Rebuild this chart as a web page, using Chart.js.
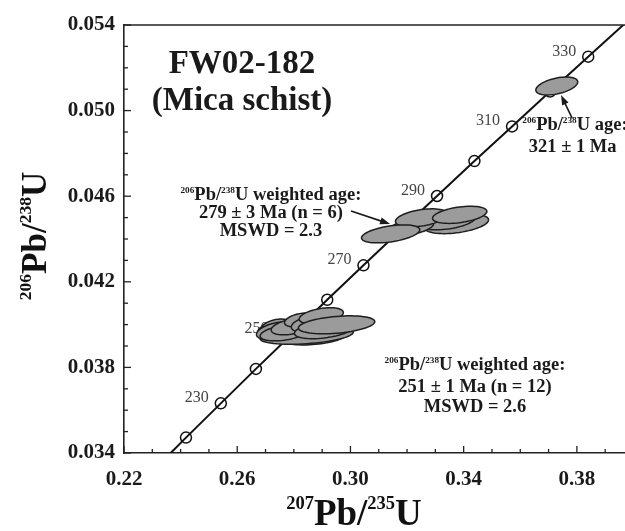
<!DOCTYPE html>
<html>
<head>
<meta charset="utf-8">
<script src="https://cdn.jsdelivr.net/npm/chart.js@4.4.1/dist/chart.umd.min.js"></script>
<style>
  html, body { margin: 0; padding: 0; background: #fff; }
  #wrap { width: 625px; height: 531px; }
</style>
</head>
<body>
<div id="wrap"><canvas id="myChart" width="625" height="531"></canvas></div>
<script>
// concordia age markers (Ma) and their ratios
const concordiaAges = [220, 230, 240, 250, 260, 270, 280, 290, 300, 310, 320, 330];
const concordiaX = [0.2419, 0.2542, 0.2666, 0.2792, 0.2918, 0.3046, 0.3175, 0.3306, 0.3438, 0.3571, 0.3705, 0.3840];
const concordiaY = [0.03472, 0.03632, 0.03793, 0.03954, 0.04116, 0.04277, 0.04439, 0.04601, 0.04764, 0.04926, 0.05089, 0.05252];
const labelledAges = [230, 250, 270, 290, 310, 330];

// where the concordia leaves the frame
const lineStart = [0.2365, 0.0340];
const lineEnd = [0.3972, 0.0541];

// zircon error ellipses: centre, half widths, correlation
const grainX = [0.2876, 0.2845, 0.2712, 0.2735, 0.2740, 0.2766, 0.2791, 0.2820, 0.2855, 0.2908, 0.2897, 0.2951,
                0.3375, 0.3343, 0.3216, 0.3251, 0.3386, 0.3142,
                0.3729];
const grainY = [0.03938, 0.03950, 0.03976, 0.03994, 0.03971, 0.03962, 0.03990, 0.04022, 0.04004, 0.03976, 0.04041, 0.03999,
                0.04471, 0.04485, 0.04457, 0.04499, 0.04513, 0.04424,
                0.05115];
const grainSx = [0.0106, 0.0165, 0.0040, 0.0050, 0.0072, 0.0085, 0.0071, 0.0053, 0.0064, 0.0106, 0.0078, 0.0135,
                 0.0113, 0.0099, 0.0078, 0.0092, 0.0096, 0.0103,
                 0.0074];
const grainSy = [0.00033, 0.00042, 0.00032, 0.00032, 0.00042, 0.00038, 0.00038, 0.00032, 0.00038, 0.00042, 0.00038, 0.00042,
                 0.00046, 0.00042, 0.00038, 0.00042, 0.00040, 0.00042,
                 0.00042];
const grainRho = [0.4, 0.35, 0.4, 0.4, 0.4, 0.4, 0.4, 0.4, 0.4, 0.4, 0.4, 0.35,
                  0.4, 0.4, 0.4, 0.4, 0.4, 0.45,
                  0.45];

const xMin = 0.22, xMax = 0.397;
const yMin = 0.034, yMax = 0.054;

const SERIF = '"Liberation Serif", "Times New Roman", serif';
const font = (size, bold = true) => `${bold ? 'bold ' : ''}${size}px ${SERIF}`;

// text with superscript isotope numbers
const drawRich = (ctx, runs, x, y, size, align, supScale = 0.5, raise = 0.36) => {
  let w = 0;
  runs.forEach(([t, sup]) => { ctx.font = font(sup ? size * supScale : size); w += ctx.measureText(t).width; });
  let cx = align === 'center' ? x - w / 2 : align === 'right' ? x - w : x;
  ctx.textAlign = 'left';
  ctx.textBaseline = 'alphabetic';
  runs.forEach(([t, sup]) => {
    ctx.font = font(sup ? size * supScale : size);
    ctx.fillText(t, cx, sup ? y - size * raise : y);
    cx += ctx.measureText(t).width;
  });
}

const arrow = (ctx, x1, y1, x2, y2) => {
  const ang = Math.atan2(y2 - y1, x2 - x1);
  ctx.beginPath();
  ctx.moveTo(x1, y1);
  ctx.lineTo(x2 - 6 * Math.cos(ang), y2 - 6 * Math.sin(ang));
  ctx.stroke();
  ctx.beginPath();
  ctx.moveTo(x2, y2);
  ctx.lineTo(x2 - 10 * Math.cos(ang) + 3.5 * Math.sin(ang), y2 - 10 * Math.sin(ang) - 3.5 * Math.cos(ang));
  ctx.lineTo(x2 - 10 * Math.cos(ang) - 3.5 * Math.sin(ang), y2 - 10 * Math.sin(ang) + 3.5 * Math.cos(ang));
  ctx.closePath();
  ctx.fill();
}

const PB206 = [['206', 1], ['Pb/'], ['238', 1]];
const notes = [
  { x: 0.2617, y: 0.05176, size: 33, runs: [['FW02-182']] },
  { x: 0.2617, y: 0.05003, size: 33, runs: [['(Mica schist)']] },
  { x: 0.2719, y: 0.04582, size: 18.5, runs: [...PB206, ['U weighted age:']] },
  { x: 0.2719, y: 0.04498, size: 18.5, runs: [['279 ± 3 Ma (n = 6)']] },
  { x: 0.2719, y: 0.04414, size: 18.5, runs: [['MSWD = 2.3']] },
  { x: 0.3440, y: 0.03788, size: 18.5, runs: [...PB206, ['U weighted age:']] },
  { x: 0.3440, y: 0.03685, size: 18.5, runs: [['251 ± 1 Ma (n = 12)']] },
  { x: 0.3440, y: 0.03592, size: 18.5, runs: [['MSWD = 2.6']] },
  { x: 0.3607, y: 0.04909, size: 18.5, align: 'left', runs: [...PB206, ['U age:']] },
  { x: 0.3785, y: 0.04807, size: 18.5, runs: [['321 ± 1 Ma']] },
];
const arrows = [
  [0.3002, 0.04531, 0.3140, 0.04470],
  [0.3783, 0.04965, 0.3744, 0.05073],
];

const concordiaExtras = {
  id: 'concordiaExtras',
  afterDatasetsDraw(chart) {
    const { ctx, chartArea, scales: { x, y } } = chart;
    ctx.save();

    // age labels next to the markers
    ctx.fillStyle = '#444';
    ctx.font = font(16, false);
    ctx.textAlign = 'right';
    ctx.textBaseline = 'alphabetic';
    labelledAges.forEach(age => {
      const i = concordiaAges.indexOf(age);
      const nudge = age === 250 ? 11 : 0;
      ctx.fillText(String(age), x.getPixelForValue(concordiaX[i]) - 12 - nudge, y.getPixelForValue(concordiaY[i]) - 1);
    });

    // error ellipses
    ctx.fillStyle = '#9b9b9b';
    ctx.strokeStyle = '#1e1e1e';
    ctx.lineWidth = 1.5;
    grainX.forEach((gx, i) => {
      const r = grainRho[i], s = Math.sqrt(1 - r * r);
      ctx.beginPath();
      for (let k = 0; k <= 64; k++) {
        const th = k / 64 * Math.PI * 2;
        const px = x.getPixelForValue(gx + grainSx[i] * Math.cos(th));
        const py = y.getPixelForValue(grainY[i] + grainSy[i] * (r * Math.cos(th) + s * Math.sin(th)));
        k ? ctx.lineTo(px, py) : ctx.moveTo(px, py);
      }
      ctx.closePath();
      ctx.fill();
      ctx.stroke();
    });

    // annotations
    ctx.fillStyle = '#1a1a1a';
    notes.forEach(n => drawRich(ctx, n.runs, x.getPixelForValue(n.x), y.getPixelForValue(n.y), n.size, n.align || 'center'));
    ctx.strokeStyle = '#1a1a1a';
    ctx.lineWidth = 1.6;
    arrows.forEach(a => arrow(ctx, x.getPixelForValue(a[0]), y.getPixelForValue(a[1]), x.getPixelForValue(a[2]), y.getPixelForValue(a[3])));

    // top frame line
    ctx.strokeStyle = '#222';
    ctx.lineWidth = 1.6;
    ctx.beginPath();
    ctx.moveTo(chartArea.left, chartArea.top);
    ctx.lineTo(chartArea.right, chartArea.top);
    ctx.stroke();

    // inward tick marks
    ctx.lineWidth = 1.3;
    x.ticks.forEach(t => {
      const px = x.getPixelForValue(t.value), len = t.label ? 7 : 4;
      ctx.beginPath(); ctx.moveTo(px, chartArea.bottom); ctx.lineTo(px, chartArea.bottom - len); ctx.stroke();
    });
    y.ticks.forEach(t => {
      const py = y.getPixelForValue(t.value), len = t.label ? 7 : 4;
      ctx.beginPath(); ctx.moveTo(chartArea.left, py); ctx.lineTo(chartArea.left + len, py); ctx.stroke();
    });

    // axis titles
    ctx.fillStyle = '#111';
    drawRich(ctx, [['207', 1], ['Pb/'], ['235', 1], ['U']], 354, 525, 37, 'center', 0.5, 0.44);
    ctx.translate(46, 236);
    ctx.rotate(-Math.PI / 2);
    drawRich(ctx, [['206', 1], ['Pb/'], ['238', 1], ['U']], 0, 0, 35, 'center', 0.5, 0.44);
    ctx.restore();
  }
};

const ctx = document.getElementById('myChart');

new Chart(ctx, {
  type: 'scatter',
  data: {
    datasets: [
      {
        data: [lineStart, ...concordiaX.map((v, i) => [v, concordiaY[i]]), lineEnd].map(p => ({ x: p[0], y: p[1] })),
        showLine: true,
        borderColor: '#111',
        borderWidth: 2,
        pointRadius: 0,
      },
      {
        data: concordiaX.map((v, i) => ({ x: v, y: concordiaY[i] })),
        pointRadius: 5.5,
        pointBackgroundColor: '#fff',
        pointBorderColor: '#111',
        pointBorderWidth: 1.5,
      },
    ]
  },
  options: {
    responsive: false,
    animation: false,
    layout: { autoPadding: false, padding: { left: 0, top: 25, right: 0, bottom: 0 } },
    plugins: { legend: { display: false }, tooltip: { enabled: false } },
    scales: {
      x: {
        type: 'linear',
        min: xMin,
        max: xMax,
        grid: { display: false, drawTicks: false },
        border: { display: true, color: '#222', width: 1.6 },
        ticks: {
          stepSize: 0.01,
          includeBounds: false,
          autoSkip: false,
          maxRotation: 0,
          padding: 14,
          color: '#1a1a1a',
          font: { family: SERIF, size: 21, weight: 'bold' },
          callback: v => Math.round(v * 100) % 4 === 2 ? v.toFixed(2) : '',
        },
        afterFit: s => { s.height = 78; s.paddingRight = 0; },
      },
      y: {
        type: 'linear',
        min: yMin,
        max: yMax,
        grid: { display: false, drawTicks: false },
        border: { display: true, color: '#222', width: 1.6 },
        ticks: {
          stepSize: 0.001,
          autoSkip: false,
          padding: 9,
          color: '#1a1a1a',
          font: { family: SERIF, size: 21, weight: 'bold' },
          callback: v => Math.round((v - 0.034) * 1000) % 4 === 0 ? v.toFixed(3) : '',
        },
        afterFit: s => { s.width = 124; },
      }
    }
  },
  plugins: [concordiaExtras]
});
</script>
</body>
</html>
